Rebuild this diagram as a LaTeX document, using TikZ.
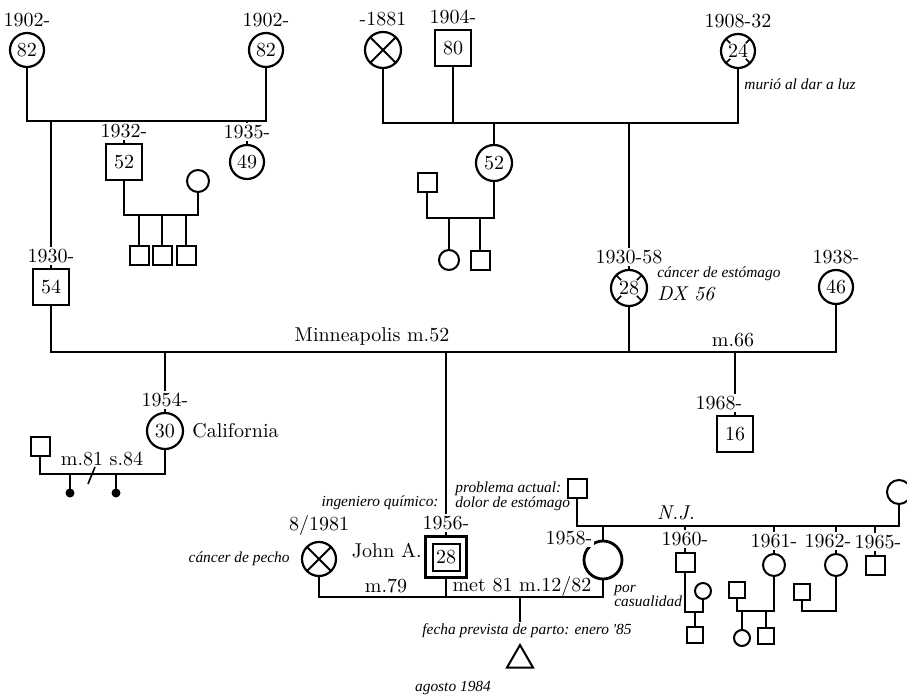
\documentclass[tikz,border=0pt]{standalone}
\usepackage{fontspec}
\newfontfamily\notefont{Liberation Serif}
\usetikzlibrary{positioning, shapes.geometric, calc}
\tikzset{
  rel/.style={line width=0.8pt},
  sym/.style={draw, line width=1.1pt, inner sep=0pt, font=\normalsize},
  fem/.style={sym, circle, minimum size=17pt},
  mal/.style={sym, rectangle, minimum size=18pt},
  femsm/.style={sym, circle, line width=1pt, minimum size=11pt},
  malsm/.style={sym, rectangle, line width=1pt, minimum size=9.5pt},
  deadx/.style={path picture={\draw[line width=0.9pt]
      (path picture bounding box.south west) -- (path picture bounding box.north east)
      (path picture bounding box.north west) -- (path picture bounding box.south east);}},
  deadtick/.style={path picture={\foreach \a in {45,135,225,315}
      \draw[line width=0.8pt] (path picture bounding box.center) ++(\a:5.5pt) -- ++(\a:4pt);}},
  yr/.style={fill=white, inner sep=1pt, font=\normalsize},
  txt/.style={inner sep=1pt, font=\normalsize},
  note/.style={inner sep=1pt, font=\notefont\itshape\fontsize{7.7}{7.4}\selectfont},
  kid/.style={circle, fill, inner sep=0pt, minimum size=4.5pt},
}

\begin{document}
\begin{tikzpicture}[x=0.5pt, y=-0.5pt]
  \useasboundingbox (0,0) rectangle (907,696);
  % grandparents, father's side
  \node[fem] (gp1) at (27,50) {82};
  \node[fem] (gp2) at (266,50) {82};
  \node[mal] (p54) at (51,287) {54};
  \node[mal] (p52) at (124,162) {52};
  \node[fem] (p49) at (247,162) {49};
  \node[femsm] (w52) at (198,181) {};
  \node[malsm] (c1) at (139,255) {};
  \node[malsm] (c2) at (162,255) {};
  \node[malsm] (c3) at (186,255) {};
  % grandparents, mother's side
  \node[fem, deadx, minimum size=18pt] (gm1) at (383,50) {};
  \node[mal] (gf80) at (453,48) {80};
  \node[fem, deadtick] (gm24) at (738,51) {24};
  \node[fem, minimum size=18pt] (a52) at (494,163) {52};
  \node[malsm] (h52) at (427,182) {};
  \node[femsm, minimum size=10pt] (k1) at (449,260) {};
  \node[malsm] (k2) at (480,260) {};
  % parents
  \node[fem, deadtick, minimum size=18pt] (m28) at (629,288) {28};
  \node[fem] (w46) at (836,287) {46};
  \node[mal] (s16) at (735,434) {16};
  \node[fem, minimum size=18pt] (d30) at (165,431) {30};
  \node[malsm] (h30) at (40,446) {};
  \node[kid] (kid1) at (70,493) {};
  \node[kid] (kid2) at (116,493) {};
  % John A. and his partners
  \node[mal, line width=1.6pt, minimum size=20.5pt] (john) at (446,557) {};
  \node[mal, line width=1pt, minimum size=13.5pt] (johnin) at (john) {28};
  \node[fem, deadx] (ex) at (319,559) {};
  \node[fem, line width=1.4pt, minimum size=19pt] (wife) at (603,560) {};
  \node[draw, line width=1pt, regular polygon, regular polygon sides=3,
        minimum size=15pt, inner sep=0pt] (baby) at (520,660) {};
  % wife's family
  \node[malsm] (pf) at (577,488) {};
  \node[femsm, minimum size=12pt] (pm) at (899,492) {};
  \node[malsm] (s60) at (685,562) {};
  \node[femsm] (s61) at (774,565) {};
  \node[femsm] (s62) at (836,565) {};
  \node[malsm] (s65) at (875,565) {};
  \node[femsm, minimum size=8pt] (w60) at (703,591) {};
  \node[malsm, minimum size=8pt] (g60) at (695,635) {};
  \node[malsm, minimum size=8pt] (h61) at (737,590) {};
  \node[femsm, minimum size=8pt] (g61a) at (742,638) {};
  \node[malsm, minimum size=8pt] (g61b) at (766,636) {};
  \node[malsm, minimum size=8pt] (h62) at (802,592) {};

  % relationship lines
  \coordinate (mA) at (146,121);
  \coordinate (mB) at (160,215);
  \coordinate (mC) at (560,123);
  \coordinate (mD) at (460,218);
  \coordinate (mE) at (300,352);
  \coordinate (mG) at (100,474);
  \coordinate (mH) at (460,597);
  \coordinate (mI) at (740,526);
  \coordinate (mJ) at (694,612);
  \coordinate (mK) at (755,611);
  \coordinate (mL) at (820,611);
  \draw[rel] (gp1.south) |- (mA) -| (gp2.south);
  \foreach \n in {p54, p52, p49} \draw[rel] (\n.north) -- (\n.north |- mA);
  \draw[rel] (p52.south) |- (mB) -| (w52.south);
  \foreach \n in {c1, c2, c3} \draw[rel] (\n.north) -- (\n.north |- mB);
  \draw[rel] (gm1.south) |- (mC) -| (gm24.south);
  \draw[rel] (gf80.south) -- (gf80.south |- mC);
  \foreach \n in {a52, m28} \draw[rel] (\n.north) -- (\n.north |- mC);
  \draw[rel] (h52.south) |- (mD) -| (a52.south);
  \foreach \n in {k1, k2} \draw[rel] (\n.north) -- (\n.north |- mD);
  \draw[rel] (p54.south) |- (mE) -| (w46.south);
  \draw[rel] (m28.south) -- (m28.south |- mE);
  \foreach \n in {d30, john, s16} \draw[rel] (\n.north) -- (\n.north |- mE);
  \draw[rel] (h30.south) |- (mG) -| (d30.south);
  \foreach \n in {kid1, kid2} \draw[rel] (\n.center) -- (\n.center |- mG);
  \draw[rel] (88,484) -- (95,467);
  \draw[rel] (ex.south) |- (mH) -| (wife.south);
  \draw[rel] (john.south) -- (john.south |- mH);
  \draw[rel] (pf.south) |- (mI) -| (pm.south);
  \foreach \n in {wife, s60, s61, s62, s65} \draw[rel] (\n.north) -- (\n.north |- mI);
  \draw[rel] (s60.south) |- (mJ) -| (w60.south);
  \draw[rel] (g60.north) -- (g60.north |- mJ);
  \draw[rel] (h61.south) |- (mK) -| (s61.south);
  \foreach \n in {g61a, g61b} \draw[rel] (\n.north) -- (\n.north |- mK);
  \draw[rel] (h62.south) |- (mL) -| (s62.south);

  % years
  \node[yr, above=1.5pt of gp1] {1902-};
  \node[yr, above=1.5pt of gp2] {1902-};
  \node[yr, above=1.5pt of p54] {1930-};
  \node[yr, above=1.5pt of p52] {1932-};
  \node[yr, above=1.5pt of p49] {1935-};
  \node[yr, above=1.5pt of gm1] {-1881};
  \node[yr, above=1.5pt of gf80] {1904-};
  \node[yr, above=1.5pt of gm24] {1908-32};
  \node[yr, above=1.5pt of m28] {1930-58};
  \node[yr, above=1.5pt of w46] {1938-};
  \node[yr, above=1.5pt of s16, xshift=-8pt] {1968-};
  \node[yr, above=1.5pt of d30] {1954-};
  \node[yr, above=1.5pt of john] {1956-};
  \node[yr, above=1.5pt of ex] {8/1981};
  \node[yr] at (569,538) {1958-};
  \node[yr, above=1.5pt of s60] {1960-};
  \node[yr, above=1.5pt of s61] {1961-};
  \node[yr, above=1.5pt of s62, xshift=-4pt] {1962-};
  \node[yr, above=1.5pt of s65, xshift=1.5pt] {1965-};

  % texts
  \node[note] at (800,84) {murió al dar a luz};
  \node[note, anchor=west] at (655,274) {cáncer de estómago};
  \node[txt, anchor=west, font=\normalsize\itshape] at (655,294) {DX 56};
  \node[txt] at (372,336) {Minneapolis m.52};
  \node[txt] at (733,340) {m.66};
  \node[txt, anchor=west] at (190,431) {California};
  \node[txt] at (102,459) {m.81 s.84};
  \node[note, anchor=east] at (441,503) {ingeniero químico:};
  \node[note, anchor=west, align=left] at (453,496) {problema actual:\\dolor de estómago};
  \node[txt, anchor=east] at (424,551) {John A.};
  \node[note, anchor=east] at (292,559) {cáncer de pecho};
  \node[txt] at (386,586) {m.79};
  \node[txt] at (522,586) {met 81 m.12/82};
  \node[note, anchor=west, align=left] at (612,596) {por\\casualidad};
  \node[note] (fecha) at (527,631) {fecha prevista de parto: enero '85};
  \draw[rel] (baby.north |- mH) -- (baby.north |- fecha.north);
  \node[note] at (453,688) {agosto 1984};
  \node[txt, font=\normalsize\itshape] at (676,513) {N.J.};
\end{tikzpicture}
\end{document}
